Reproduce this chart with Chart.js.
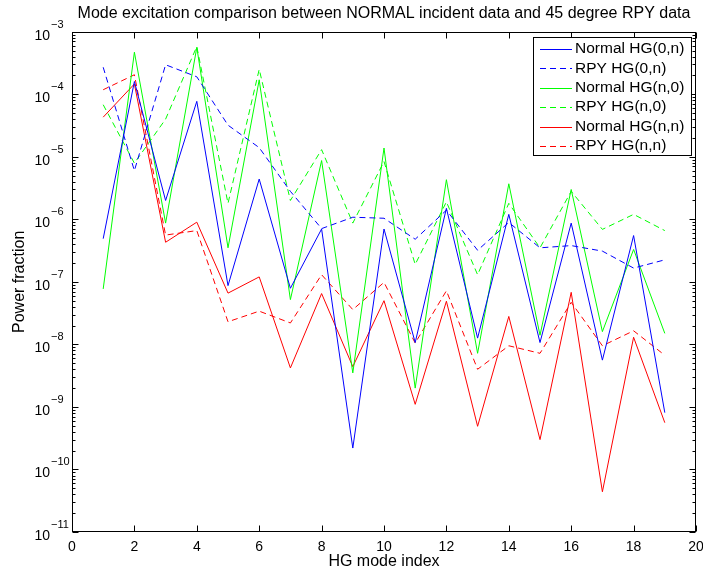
<!DOCTYPE html>
<html>
<head>
<meta charset="utf-8">
<script src="https://cdn.jsdelivr.net/npm/chart.js@4.4.1/dist/chart.umd.min.js"></script>
<style>
  html, body { margin: 0; padding: 0; background: #fff; }
  #wrap { width: 703px; height: 571px; }
</style>
</head>
<body>
<div id="wrap"><canvas id="chart" width="703" height="571"></canvas></div>
<script>
const modes = [1, 2, 3, 4, 5, 6, 7, 8, 9, 10, 11, 12, 13, 14, 15, 16, 17, 18, 19];

const normal0n = [4.9e-7, 1.6e-4, 2.0e-6, 7.7e-5, 8.7e-8, 4.4e-6, 7.9e-8, 7.0e-7, 2.2e-10, 7.0e-7,
  1.07e-8, 1.5e-6, 1.26e-8, 1.2e-6, 1.07e-8, 8.7e-7, 5.6e-9, 5.5e-7, 8.1e-10];
const rpy0n = [2.7e-4, 6.0e-6, 2.96e-4, 1.9e-4, 3.2e-5, 1.4e-5, 2.8e-6, 7.1e-7, 1.08e-6, 1.04e-6,
  4.8e-7, 1.4e-6, 3.2e-7, 8.9e-7, 3.5e-7, 3.8e-7, 3.1e-7, 1.66e-7, 2.25e-7];
const normaln0 = [7.7e-8, 4.7e-4, 8.7e-7, 5.6e-4, 3.5e-7, 1.7e-4, 5.2e-8, 8.7e-6, 3.5e-9, 1.38e-5,
  2.0e-9, 4.3e-6, 7.2e-9, 3.7e-6, 1.4e-8, 3.0e-6, 1.6e-8, 3.3e-7, 1.5e-8];
const rpyn0 = [6.8e-5, 7.9e-6, 4.0e-5, 5.8e-4, 1.8e-6, 2.5e-4, 2.0e-6, 1.3e-5, 8.7e-7, 8.4e-6,
  1.9e-7, 1.9e-6, 1.3e-7, 1.8e-6, 3.5e-7, 2.8e-6, 6.9e-7, 1.2e-6, 6.6e-7];
const normalnn = [4.3e-5, 1.46e-4, 4.3e-7, 9.0e-7, 6.6e-8, 1.2e-7, 4.2e-9, 6.5e-8, 4.4e-9, 5.0e-8,
  1.1e-9, 4.9e-8, 4.9e-10, 2.8e-8, 3.0e-10, 6.8e-8, 4.4e-11, 1.3e-8, 5.6e-10];
const rpynn = [1.18e-4, 2.05e-4, 5.6e-7, 6.6e-7, 2.3e-8, 3.4e-8, 2.2e-8, 1.3e-7, 3.6e-8, 9.8e-8,
  1.05e-8, 7.2e-8, 4.0e-9, 9.5e-9, 7.2e-9, 4.7e-8, 9.5e-9, 1.65e-8, 6.7e-9];

const xTicks = [0, 2, 4, 6, 8, 10, 12, 14, 16, 18, 20];
const yDecades = [-11, -10, -9, -8, -7, -6, -5, -4, -3];

const FONT = 'Helvetica, "Liberation Sans", Arial, sans-serif';

function series(label, values, color, dashed) {
  return {
    label,
    data: modes.map((m, i) => ({x: m, y: values[i]})),
    borderColor: color,
    backgroundColor: color,
    borderWidth: 1,
    borderDash: dashed ? [6, 4] : [],
    pointRadius: 0,
    tension: 0,
    fill: false
  };
}

function isDecade(v) {
  const e = Math.log10(v);
  return Math.abs(e - Math.round(e)) < 1e-9;
}

// box, inward ticks, superscript exponents and the legend, MATLAB style
const matlabLook = {
  id: 'matlabLook',
  afterDraw(chart) {
    const {ctx, chartArea: a, scales: {x, y}} = chart;
    ctx.save();
    ctx.strokeStyle = '#000';
    ctx.lineWidth = 1;
    ctx.setLineDash([]);
    const L = Math.round(a.left) + 0.5, R = Math.round(a.right) - 0.5;
    const T = Math.round(a.top) + 0.5, B = Math.round(a.bottom) - 0.5;
    ctx.strokeRect(L, T, R - L, B - T);

    ctx.beginPath();
    y.ticks.forEach(t => {
      const py = Math.round(y.getPixelForValue(t.value)) + 0.5;
      const len = isDecade(t.value) ? 6 : 3;
      ctx.moveTo(L, py); ctx.lineTo(L + len, py);
      ctx.moveTo(R, py); ctx.lineTo(R - len, py);
    });
    x.ticks.forEach(t => {
      const px = Math.round(x.getPixelForValue(t.value)) + 0.5;
      ctx.moveTo(px, B); ctx.lineTo(px, B - 6);
      ctx.moveTo(px, T); ctx.lineTo(px, T + 6);
    });
    ctx.stroke();

    // exponents next to the "10" tick labels
    ctx.fillStyle = '#000';
    ctx.font = '11px ' + FONT;
    ctx.textAlign = 'left';
    ctx.textBaseline = 'middle';
    yDecades.forEach(e => {
      const py = y.getPixelForValue(Math.pow(10, e));
      ctx.fillText('\u2212' + Math.abs(e), 51, py - 7);
    });

    // legend
    const lx = 533, ly = 37, lw = 158, lh = 118, row = 19.4;
    ctx.fillStyle = '#fff';
    ctx.fillRect(lx, ly, lw, lh);
    ctx.strokeStyle = '#000';
    ctx.strokeRect(lx + 0.5, ly + 0.5, lw, lh);
    ctx.font = '15.5px ' + FONT;
    chart.data.datasets.forEach((ds, i) => {
      const ry = ly + 12 + i * row;
      ctx.strokeStyle = ds.borderColor;
      ctx.setLineDash(ds.borderDash);
      ctx.beginPath();
      ctx.moveTo(540, Math.round(ry) + 0.5);
      ctx.lineTo(572, Math.round(ry) + 0.5);
      ctx.stroke();
      ctx.fillStyle = '#000';
      ctx.fillText(ds.label, 575, ry);
    });
    ctx.restore();
  }
};

new Chart(document.getElementById('chart'), {
  type: 'line',
  data: {
    datasets: [
      series('Normal HG(0,n)', normal0n, '#0000ff', false),
      series('RPY HG(0,n)', rpy0n, '#0000ff', true),
      series('Normal HG(n,0)', normaln0, '#00ff00', false),
      series('RPY HG(n,0)', rpyn0, '#00ff00', true),
      series('Normal HG(n,n)', normalnn, '#ff0000', false),
      series('RPY HG(n,n)', rpynn, '#ff0000', true)
    ]
  },
  options: {
    responsive: false,
    animation: false,
    devicePixelRatio: 1,
    layout: {padding: {left: 0, right: 7, top: 0, bottom: 0}},
    plugins: {
      legend: {display: false},
      tooltip: {enabled: false},
      title: {
        display: true,
        fullSize: false,
        text: 'Mode excitation comparison between NORMAL incident data and 45 degree RPY data',
        color: '#000',
        font: {family: FONT, size: 16, weight: 'normal'},
        padding: {top: 4, bottom: 8.5}
      }
    },
    scales: {
      x: {
        type: 'linear',
        min: 0,
        max: 20,
        afterBuildTicks: s => { s.ticks = xTicks.map(v => ({value: v})); },
        ticks: {color: '#000', font: {family: FONT, size: 14}, padding: 7, maxRotation: 0},
        grid: {display: false, drawTicks: false},
        border: {display: false},
        title: {
          display: true,
          text: 'HG mode index',
          color: '#000',
          font: {family: FONT, size: 16},
          padding: {top: 0, bottom: 0}
        },
        afterFit: s => {
          s.height = 39;
          s.paddingLeft = 0;
          s.paddingRight = 0;
        }
      },
      y: {
        type: 'logarithmic',
        min: 1e-11,
        max: 1e-3,
        afterBuildTicks: s => {
          const t = [];
          yDecades.forEach(e => {
            for (let k = 1; k <= 9; k++) {
              if (e === -3 && k > 1) break;
              t.push({value: k * Math.pow(10, e)});
            }
          });
          s.ticks = t;
        },
        ticks: {
          color: '#000',
          font: {family: FONT, size: 14},
          padding: 22,
          labelOffset: 4,
          autoSkip: false,
          callback: v => isDecade(v) ? '10' : ''
        },
        grid: {display: false, drawTicks: false},
        border: {display: false},
        title: {
          display: true,
          text: 'Power fraction',
          color: '#000',
          font: {family: FONT, size: 16},
          padding: {top: 10, bottom: 0}
        },
        afterFit: s => {
          s.width = 72;
          s.paddingTop = 0;
          s.paddingBottom = 0;
        }
      }
    }
  },
  plugins: [matlabLook]
});
</script>
</body>
</html>
